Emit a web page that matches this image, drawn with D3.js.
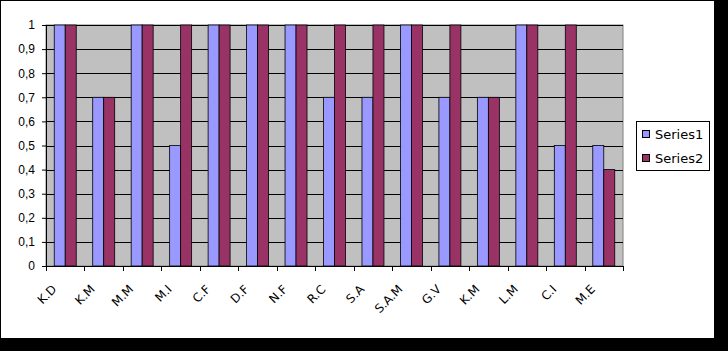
<!DOCTYPE html>
<html>
<head>
<meta charset="utf-8">
<script src="https://cdn.jsdelivr.net/npm/d3@7"></script>
<style>
  body { margin: 0; background: #000; }
  svg { display: block; font-family: "DejaVu Sans", Verdana, sans-serif; }
</style>
</head>
<body>
<svg id="chart" width="728" height="351"></svg>
<script>
const categories = ["K.D", "K.M", "M.M", "M.I", "C.F", "D.F", "N.F", "R.C", "S.A", "S.A.M", "G.V", "K.M", "L.M", "C.I", "M.E"];
const series1 = [1, 0.7, 1, 0.5, 1, 1, 1, 0.7, 0.7, 1, 0.7, 0.7, 1, 0.5, 0.5];
const series2 = [1, 0.7, 1, 1, 1, 1, 1, 1, 1, 1, 1, 0.7, 1, 1, 0.4];
const seriesNames = ["Series1", "Series2"];
const yTicks = [0, 0.1, 0.2, 0.3, 0.4, 0.5, 0.6, 0.7, 0.8, 0.9, 1];

const colors = { Series1: "#9999ff", Series2: "#993366" };

const svg = d3.select("#chart");

// white chart area inside the black frame
svg.append("rect")
    .attr("x", 1).attr("y", 1)
    .attr("width", 713).attr("height", 337)
    .attr("fill", "#fff");

const plot = { left: 46, top: 25, right: 623, bottom: 266 };

const x0 = d3.scaleBand()
    .domain(d3.range(categories.length))
    .range([plot.left, plot.right])
    .padding(0);

const off = x0.bandwidth() * 0.75 / 3.5;
const x1 = d3.scaleBand()
    .domain(seriesNames)
    .range([off, x0.bandwidth() - off])
    .padding(0);

const y = d3.scaleLinear()
    .domain([0, 1])
    .range([plot.bottom, plot.top]);

// plot background
svg.append("rect")
    .attr("x", plot.left).attr("y", plot.top)
    .attr("width", plot.right - plot.left)
    .attr("height", plot.bottom - plot.top)
    .attr("fill", "#c0c0c0")
    .attr("stroke", "#808080");

// gridlines
svg.append("g")
    .selectAll("line")
    .data(yTicks.filter(d => d > 0))
    .enter()
    .append("line")
    .attr("x1", plot.left).attr("x2", plot.right)
    .attr("y1", d => Math.round(y(d)) + 0.5)
    .attr("y2", d => Math.round(y(d)) + 0.5)
    .attr("stroke", "#000");

// bars
const rows = categories.map((c, i) => ({ i, Series1: series1[i], Series2: series2[i] }));

const groups = svg.append("g")
    .selectAll("g")
    .data(rows)
    .enter()
    .append("g")
    .attr("transform", d => `translate(${x0(d.i)},0)`);

groups.selectAll("rect")
    .data(d => seriesNames.map(s => ({ s, v: d[s] })))
    .enter()
    .append("rect")
    .attr("x", d => x1(d.s))
    .attr("y", d => y(d.v))
    .attr("width", x1.bandwidth())
    .attr("height", d => y(0) - y(d.v))
    .attr("fill", d => colors[d.s])
    .attr("stroke", "#000")
    .attr("stroke-width", 0.8);

// y axis
const yAxis = svg.append("g")
    .attr("transform", `translate(${plot.left},0)`)
    .call(d3.axisLeft(y)
        .tickValues(yTicks)
        .tickSize(4)
        .tickPadding(7)
        .tickFormat(d => d3.format(".1~f")(d).replace(".", ",")));
yAxis.select(".domain").attr("stroke", "#000");
yAxis.selectAll("text")
    .style("font-size", "12px")
    .style("fill", "#000");

// x axis
const xAxis = svg.append("g")
    .attr("transform", `translate(0,${plot.bottom})`);
xAxis.append("line")
    .attr("x1", plot.left).attr("x2", plot.right)
    .attr("y1", 0.5).attr("y2", 0.5)
    .attr("stroke", "#000");
xAxis.selectAll(".tick")
    .data(d3.range(categories.length + 1))
    .enter()
    .append("line")
    .attr("x1", i => Math.round(plot.left + i * x0.step()) + 0.5)
    .attr("x2", i => Math.round(plot.left + i * x0.step()) + 0.5)
    .attr("y1", 0).attr("y2", 5)
    .attr("stroke", "#000");

xAxis.selectAll(".label")
    .data(categories)
    .enter()
    .append("text")
    .attr("class", "label")
    .attr("text-anchor", "end")
    .attr("transform", (d, i) => `translate(${x0(i) + x0.bandwidth() / 2 - 8},24) rotate(-45)`)
    .style("font-size", "12px")
    .text(d => d);

// legend
const legend = svg.append("g")
    .attr("transform", "translate(636,121)");
legend.append("rect")
    .attr("x", 0.5).attr("y", 0.5)
    .attr("width", 73).attr("height", 49)
    .attr("fill", "#fff")
    .attr("stroke", "#000");

seriesNames.forEach((name, i) => {
    const row = legend.append("g")
        .attr("transform", `translate(6,${13 + i * 24})`);
    row.append("rect")
        .attr("x", 0.5).attr("y", -3.5)
        .attr("width", 7).attr("height", 7)
        .attr("fill", colors[name])
        .attr("stroke", "#000");
    row.append("text")
        .attr("x", 13)
        .attr("y", 0)
        .attr("dy", "0.35em")
        .style("font-size", "13px")
        .text(name);
});
</script>
</body>
</html>
